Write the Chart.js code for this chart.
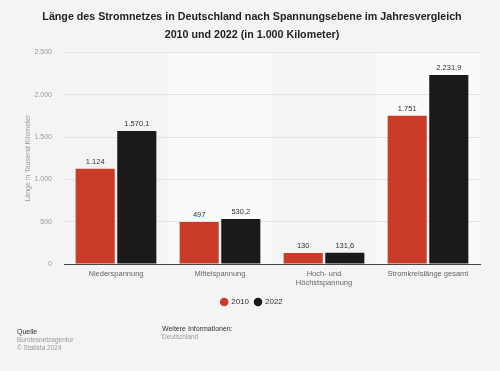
<!DOCTYPE html>
<html>
<head>
<meta charset="utf-8" />
<title>Stromnetz Deutschland</title>
<style>
    html, body { margin: 0; padding: 0; background: #f4f4f4; }
    .wrap { position: relative; width: 500px; height: 371px; font-family: "Liberation Sans", Arial, sans-serif; }
    .chart-box { position: absolute; left: 0; top: 0; width: 500px; height: 371px; }
    .foot { position: absolute; font-size: 6.5px; line-height: 8px; color: #999; }
    .foot b { font-weight: normal; color: #333; font-size: 7px; }
</style>
</head>
<body>
<div class="wrap">
    <div class="chart-box"><canvas id="chart"></canvas></div>
    <div class="foot" style="left:17px; top:328px;"><b>Quelle</b><br>Bundesnetzagentur<br>© Statista 2024</div>
    <div class="foot" style="left:162px; top:325px;"><b>Weitere Informationen:</b><br>Deutschland</div>
</div>

<script src="https://cdn.jsdelivr.net/npm/chart.js"></script>
<script>
// data
const categories = ["Niederspannung", "Mittelspannung", ["Hoch- und", "Höchstspannung"], "Stromkreislänge gesamt"];
const values2010 = [1124, 497, 130, 1751];
const values2022 = [1570.1, 530.2, 131.6, 2231.9];
const yTicks = [0, 500, 1000, 1500, 2000, 2500];

// german number format: 1.570,1
function fmt(v) {
    let parts = (Math.round(v * 10) / 10).toString().split('.');
    parts[0] = parts[0].replace(/\B(?=(\d{3})+(?!\d))/g, '.');
    return parts.join(',');
}

// light bands behind every second category
const bandPlugin = {
    id: 'bands',
    beforeDraw(chart) {
        const x = chart.scales.x, area = chart.chartArea, c = chart.ctx;
        const w = (area.right - area.left) / categories.length;
        c.save();
        c.fillStyle = '#fafafa';
        for (let i = 1; i < categories.length; i += 2) {
            const mid = x.getPixelForValue(i);
            c.fillRect(mid - w / 2, area.top, w, area.bottom - area.top);
        }
        c.restore();
    }
};

// value labels above bars
const labelPlugin = {
    id: 'valueLabels',
    afterDatasetsDraw(chart) {
        const c = chart.ctx;
        c.save();
        c.font = '7.5px "Liberation Sans", Arial, sans-serif';
        c.fillStyle = '#333';
        c.textAlign = 'center';
        c.textBaseline = 'bottom';
        chart.data.datasets.forEach((ds, di) => {
            chart.getDatasetMeta(di).data.forEach((bar, i) => {
                c.fillText(fmt(ds.data[i]), bar.x, bar.y - 3);
            });
        });
        c.restore();
    }
};

new Chart(document.getElementById('chart'), {
    type: 'bar',
    data: {
        labels: categories,
        datasets: [
            { label: '2010', data: values2010, backgroundColor: '#c93c28' },
            { label: '2022', data: values2022, backgroundColor: '#1a1a1a' }
        ]
    },
    options: {
        responsive: true,
        maintainAspectRatio: false,
        animation: false,
        datasets: { bar: { categoryPercentage: 0.8, barPercentage: 0.94 } },
        layout: { padding: { left: 24, right: 20, top: 0, bottom: 55 } },
        plugins: {
            title: {
                display: true,
                text: ['Länge des Stromnetzes in Deutschland nach Spannungsebene im Jahresvergleich', '2010 und 2022 (in 1.000 Kilometer)'],
                color: '#222',
                font: { family: '"Liberation Sans", Arial, sans-serif', size: 10.7, weight: 'bold', lineHeight: 1.7 },
                padding: { top: 8, bottom: 8 }
            },
            legend: {
                position: 'bottom',
                labels: {
                    usePointStyle: true,
                    pointStyle: 'circle',
                    boxWidth: 6,
                    boxHeight: 6,
                    padding: 6,
                    color: '#333',
                    font: { family: '"Liberation Sans", Arial, sans-serif', size: 8 }
                }
            },
            tooltip: { enabled: false }
        },
        scales: {
            x: {
                grid: { display: false, drawTicks: false },
                border: { display: true, color: '#444', width: 1 },
                ticks: {
                    color: '#666',
                    padding: 5,
                    font: { family: '"Liberation Sans", Arial, sans-serif', size: 7.5 }
                }
            },
            y: {
                min: 0,
                max: 2500,
                afterFit(scale) { scale.width = 40; },
                afterBuildTicks(scale) { scale.ticks = yTicks.map(v => ({ value: v })); },
                grid: { color: '#e3e3e3', drawTicks: false },
                border: { display: false },
                ticks: {
                    color: '#999',
                    padding: 12,
                    font: { family: '"Liberation Sans", Arial, sans-serif', size: 7 },
                    callback: v => fmt(v)
                },
                title: {
                    display: true,
                    text: 'Länge in Tausend Kilometer',
                    color: '#999',
                    font: { family: '"Liberation Sans", Arial, sans-serif', size: 7 },
                    padding: { top: 0, bottom: 0 }
                }
            }
        }
    },
    plugins: [bandPlugin, labelPlugin]
});
</script>
</body>
</html>
